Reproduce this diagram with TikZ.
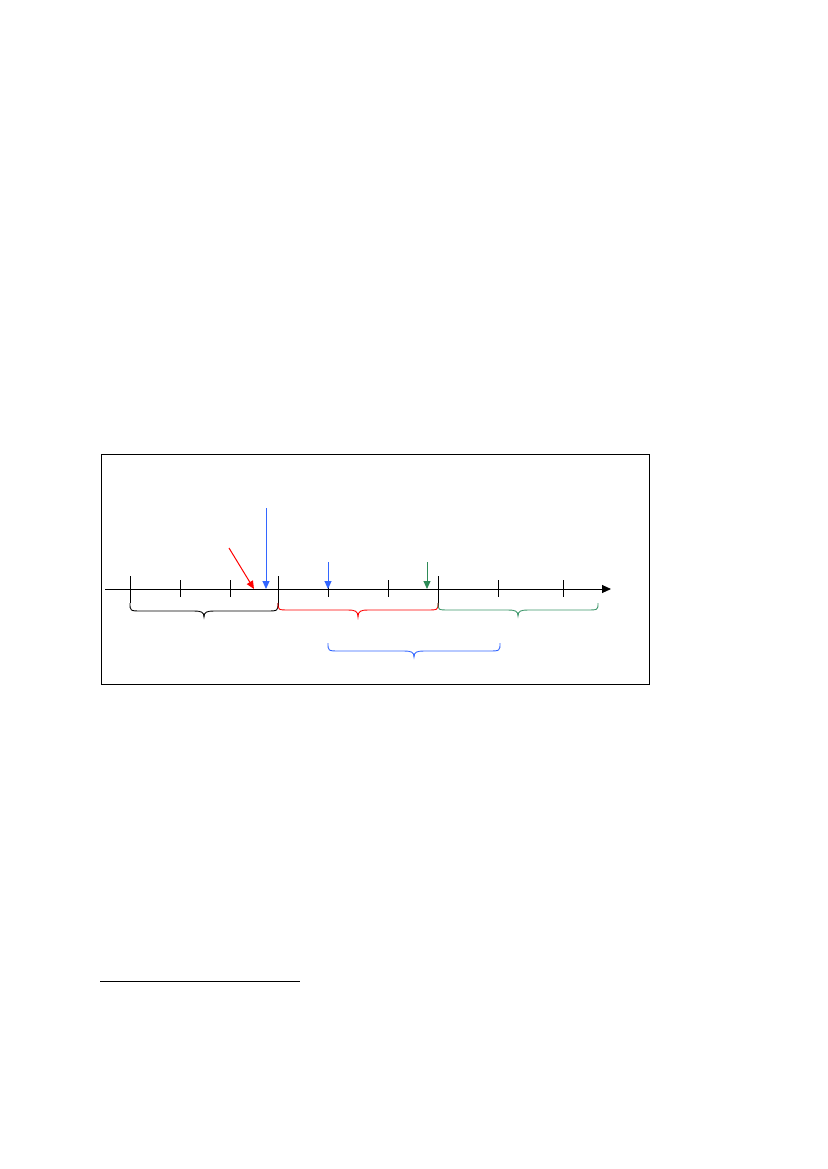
\documentclass[tikz,border=0pt]{standalone}
\usetikzlibrary{arrows.meta}
\definecolor{myblue}{RGB}{51,102,255}
\definecolor{myred}{RGB}{255,0,0}
\definecolor{mygreen}{RGB}{46,139,87}
\definecolor{mygreenb}{RGB}{60,150,105}
\tikzset{
  thinline/.style={line width=0.9pt},
  smalltick/.style={line width=0.9pt,black},
  bigtick/.style={line width=0.9pt,black},
  pointer/.style={line width=1pt,-{Triangle[length=8pt,width=7pt]}},
  bracepath/.style={line width=0.9pt}
}
% brace: xa, xb, y0 (end top), y1 (line), y2 (tip)
\newcommand{\mybracedraw}[6]{%
  \pgfmathsetmacro{\xm}{(#2+#3)/2}
  \draw[bracepath,#1] (#2,#4) .. controls (#2,#5) and (#2,#5) .. (#2+12,#5)
    -- (\xm-10,#5) .. controls (\xm-3,#5) and (\xm,#5+1) .. (\xm,#6)
    .. controls (\xm,#5+1) and (\xm+3,#5) .. (\xm+10,#5)
    -- (#3-12,#5) .. controls (#3,#5) and (#3,#5) .. (#3,#4);
}
\begin{document}
\begin{tikzpicture}[x=1pt,y=-1pt]
\useasboundingbox (0,0) rectangle (827,1169);
% frame
\draw[line width=1pt] (101,454) rectangle (649,684);
% axis
\coordinate (axL) at (105,589);
\coordinate (axR) at (611,589);
\draw[thinline,-{Triangle[length=9pt,width=8pt]}] (axL) -- (axR);
% big ticks
\foreach \x/\b in {130/603, 278/607, 438/607}
  \draw[bigtick] (\x,576) -- (\x,\b);
% small ticks
\foreach \x in {180,230,328,388,498,563}
  \draw[smalltick] (\x,580) -- (\x,597);
% braces
\mybracedraw{black}{130}{278}{603}{611}{617}
\mybracedraw{myred}{278}{438}{603}{610}{617}
\mybracedraw{mygreenb}{438}{598}{603}{610}{616}
\mybracedraw{myblue}{328}{500}{643}{651}{657}
% pointers
\coordinate (rA) at (229,548);
\coordinate (rB) at (254,589);
\draw[pointer,myred] (rA) -- (rB);
\coordinate (bA) at (266,508);
\coordinate (bB) at (266,589);
\draw[pointer,myblue] (bA) -- (bB);
\coordinate (cA) at (328,562);
\coordinate (cB) at (328,589);
\draw[pointer,myblue] (cA) -- (cB);
\coordinate (gA) at (427,562);
\coordinate (gB) at (427,589);
\draw[pointer,mygreen] (gA) -- (gB);
% footnote rule
\coordinate (fL) at (100,981);
\coordinate (fR) at (300,981);
\draw[line width=1pt] (fL) -- (fR);
\end{tikzpicture}
\end{document}
